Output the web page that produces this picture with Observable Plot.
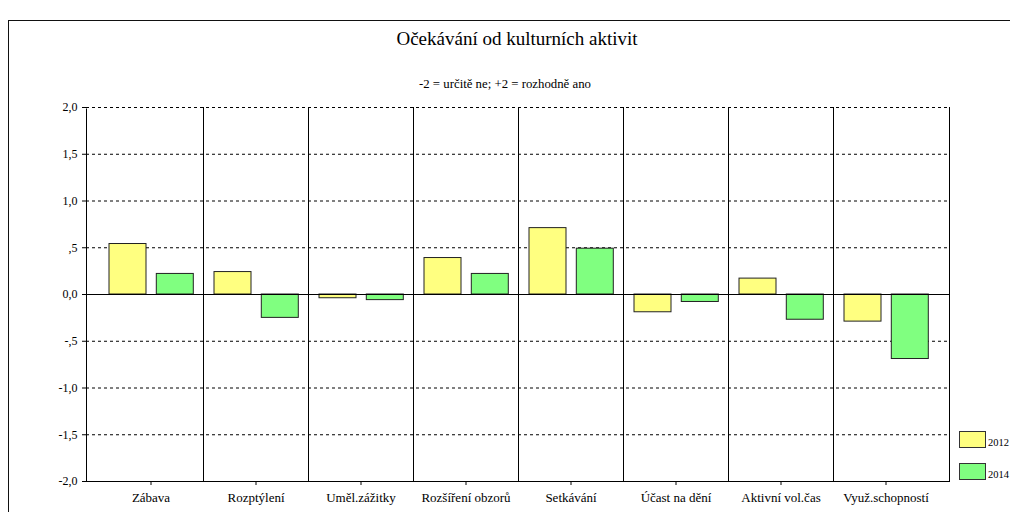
<!DOCTYPE html>
<html>
<head>
<meta charset="utf-8">
<script src="https://cdn.jsdelivr.net/npm/d3@7"></script>
<script src="https://cdn.jsdelivr.net/npm/@observablehq/plot@0.6"></script>
<style>
  body { margin: 0; background: #fff; }
  #wrap { position: relative; width: 1010px; height: 512px; overflow: hidden; font-family: "Liberation Serif", "Times New Roman", serif; color: #000; }
  #chart { position: absolute; left: 0; top: 0; }
  #chart svg, #chart svg text { font-family: "Liberation Serif", "Times New Roman", serif !important; }
  #border { position: absolute; left: 8px; top: 20px; width: 1100px; height: 600px; border: 1.5px solid #111; box-sizing: border-box; pointer-events: none; }
  #title { position: absolute; left: 12px; width: 1010px; top: 27px; text-align: center; font-size: 19px; line-height: 24px; white-space: nowrap; }
  #subtitle { position: absolute; left: 0; width: 1010px; top: 76px; text-align: center; font-size: 12.8px; line-height: 16px; white-space: nowrap; }
  .leg { position: absolute; left: 959px; width: 27px; height: 17px; border: 1px solid #333; box-sizing: border-box; }
  .legt { position: absolute; left: 988px; font-size: 10.5px; line-height: 12px; white-space: nowrap; }
</style>
</head>
<body>
<div id="wrap">
  <div id="chart"></div>
  <div id="border"></div>
  <div id="title"></div>
  <div id="subtitle"></div>
  <div id="legend"></div>
</div>
<script>
const titleText = "Očekávání od kulturních aktivit";
const subtitleText = "-2 = určitě ne; +2 = rozhodně ano";
const categories = ["Zábava", "Rozptýlení", "Uměl.zážitky", "Rozšíření obzorů", "Setkávání", "Účast na dění", "Aktivní vol.čas", "Využ.schopností"];
const years = ["2012", "2014"];
const values2012 = [0.54, 0.24, -0.04, 0.39, 0.71, -0.19, 0.17, -0.29];
const values2014 = [0.22, -0.25, -0.06, 0.22, 0.49, -0.08, -0.27, -0.69];
const yTicks = [-2, -1.5, -1, -0.5, 0, 0.5, 1, 1.5, 2];
const yTickLabels = ["-2,0", "-1,5", "-1,0", "-,5", "0,0", ",5", "1,0", "1,5", "2,0"];
const yearColors = ["#ffff80", "#80ff80"];

document.getElementById("title").textContent = titleText;
document.getElementById("subtitle").textContent = subtitleText;

const rows2012 = categories.map((c, i) => ({category: c, year: years[0], value: values2012[i]}));
const rows2014 = categories.map((c, i) => ({category: c, year: years[1], value: values2014[i]}));

const common = {
  width: 1010, height: 512,
  marginLeft: 86, marginRight: 61, marginTop: 107, marginBottom: 31,
  style: "font-family: 'Liberation Serif', 'Times New Roman', serif; font-size: 12px; color: #000; background: transparent;"
};
const xOpts = {type: "band", domain: categories, paddingInner: 0, paddingOuter: 0.1, label: null};
const yOpts = {domain: [-2, 2], label: null};

// probe the band scale to get bandwidth
const probe = Plot.plot({...common, x: xOpts, y: yOpts, axis: null, marks: [Plot.ruleY([0])]});
const bw = probe.scale("x").bandwidth;

const gridTicks = yTicks.filter(t => t !== 0 && t !== -2);

const plot = Plot.plot({
  ...common,
  x: xOpts,
  y: yOpts,
  marks: [
    Plot.frame({stroke: "#000"}),
    Plot.ruleY([2], {stroke: "#fff", strokeWidth: 2}),
    Plot.ruleY(gridTicks, {stroke: "#000", strokeDasharray: "3,3"}),
    Plot.ruleX(categories.slice(1), {x: d => d, dx: -bw / 2, stroke: "#000"}),
    Plot.barY(rows2012, {x: "category", y: "value", fill: yearColors[0], stroke: "#222", insetLeft: 11, insetRight: bw - 48}),
    Plot.barY(rows2014, {x: "category", y: "value", fill: yearColors[1], stroke: "#222", insetLeft: 58.3, insetRight: bw - 95.3}),
    Plot.ruleY([0], {stroke: "#000"}),
    Plot.axisY({ticks: yTicks, tickFormat: d => yTickLabels[yTicks.indexOf(d)], tickSize: 4, tickPadding: 5, fontSize: 12, label: null}),
    Plot.axisX({tickSize: 4, tickPadding: 7, fontSize: 13, label: null})
  ]
});
document.getElementById("chart").appendChild(plot);

// legend
const legend = document.getElementById("legend");
const legTops = [431, 463];
years.forEach((yr, i) => {
  const sw = document.createElement("div");
  sw.className = "leg";
  sw.style.top = legTops[i] + "px";
  sw.style.background = yearColors[i];
  legend.appendChild(sw);
  const t = document.createElement("div");
  t.className = "legt";
  t.style.top = (legTops[i] + 6) + "px";
  t.textContent = yr;
  legend.appendChild(t);
});
</script>
</body>
</html>
